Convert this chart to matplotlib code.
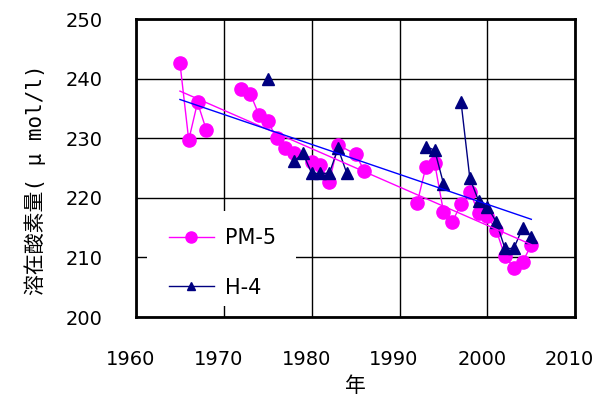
import numpy as np
import matplotlib
matplotlib.use("Agg")
import matplotlib.pyplot as plt
import matplotlib.transforms as mtransforms
from matplotlib.patches import Rectangle

plt.rcParams['font.family'] = ['DejaVu Sans', 'Noto Sans CJK JP']

# 溶在酸素量の経年変化 (PM-5, H-4)
pm5_year = [1965, 1966, 1967, 1968, None,
            1972, 1973, 1974, 1975, 1976, 1977, 1978,
            1980, 1981, 1982, 1983, 1985, 1986, None,
            1992, 1993, 1994, 1995, 1996, 1997, 1998, 1999,
            2000, 2001, 2002, 2003, 2004, 2005]
pm5_do = [242.6, 229.7, 236.0, 231.4, None,
          238.2, 237.5, 233.9, 232.9, 230.0, 228.3, 227.5,
          226.0, 225.5, 222.7, 228.9, 227.3, 224.5, None,
          219.1, 225.2, 225.8, 217.7, 216.0, 218.9, 221.0, 217.5,
          216.9, 214.6, 210.2, 208.3, 209.2, 212.1]

h4_year = [1975, None,
           1978, 1979, 1980, 1981, 1982, 1983, 1984, None,
           1993, 1994, 1995, None,
           1997, 1998, 1999, 2000, 2001, 2002, 2003, 2004, 2005]
h4_do = [240.0, None,
         226.1, 227.5, 224.1, 224.1, 224.1, 228.3, 224.1, None,
         228.6, 228.0, 222.4, None,
         236.1, 223.3, 219.5, 218.5, 216.0, 211.5, 211.5, 214.9, 213.5]

trend_range = [1965, 2005]

x_ticks = [1960, 1970, 1980, 1990, 2000, 2010]
y_ticks = [200, 210, 220, 230, 240, 250]


def to_array(v):
    return np.array([np.nan if a is None else a for a in v], dtype=float)


def linear_trend(x, y):
    m = ~np.isnan(x) & ~np.isnan(y)
    return np.polyfit(x[m], y[m], 1)


px, py = to_array(pm5_year), to_array(pm5_do)
hx, hy = to_array(h4_year), to_array(h4_do)

fig = plt.figure(figsize=(6.1, 3.97), dpi=100)
ax = fig.add_axes([0.223, 0.2015, 0.72, 0.7505])

ax.plot(px, py, color='#FF00FF', lw=1.0, marker='o', ms=9.5,
        mec='#FF00FF', mfc='#FF00FF', label='PM-5', zorder=3)
ax.plot(hx, hy, color='#000080', lw=1.0, marker='^', ms=8,
        mec='#000080', mfc='#000080', label='H-4', zorder=4)

# 線形近似
tx = np.array(trend_range, dtype=float)
ax.plot(tx, np.polyval(linear_trend(px, py), tx), color='#FF00FF', lw=1.0, zorder=5)
ax.plot(tx, np.polyval(linear_trend(hx, hy), tx), color='#0000FF', lw=1.0, zorder=5)

ax.set_xlim(1960, 2010)
ax.set_ylim(200, 250)
ax.set_xticks(x_ticks)
ax.set_yticks(y_ticks)
ax.grid(True, color='black', lw=1.0)
ax.set_axisbelow(True)
ax.tick_params(direction='in', length=0, pad=24, labelsize=14)
for s in ax.spines.values():
    s.set_linewidth(2.0)

# x目盛ラベルを少し左へ
shift = mtransforms.ScaledTranslation(-4 / 72, 0, fig.dpi_scale_trans)
for lbl in ax.get_xticklabels():
    lbl.set_transform(lbl.get_transform() + shift)

ax.set_xlabel('年', fontsize=15, labelpad=5)
ax.set_ylabel('溶在酸素量( μ mol/l)', fontsize=15,
              family=['DejaVu Sans Mono', 'Noto Sans CJK JP'])
ax.yaxis.set_label_coords(-0.205, 0.46)

# 凡例の白い下地
ax.add_patch(Rectangle((0.025, 0.037), 0.34, 0.32, transform=ax.transAxes,
                       facecolor='white', edgecolor='none', zorder=2))
leg = ax.legend(loc='lower left', bbox_to_anchor=(0.055, 0.037),
                borderaxespad=0, fontsize=15, handlelength=2.2,
                labelspacing=1.4, borderpad=0.4, handletextpad=0.5,
                frameon=False)
leg.set_zorder(6)
for h in leg.legend_handles:
    h.set_markersize(8 if h.get_marker() == 'o' else 6)

fig.savefig('out.png', dpi=100)
